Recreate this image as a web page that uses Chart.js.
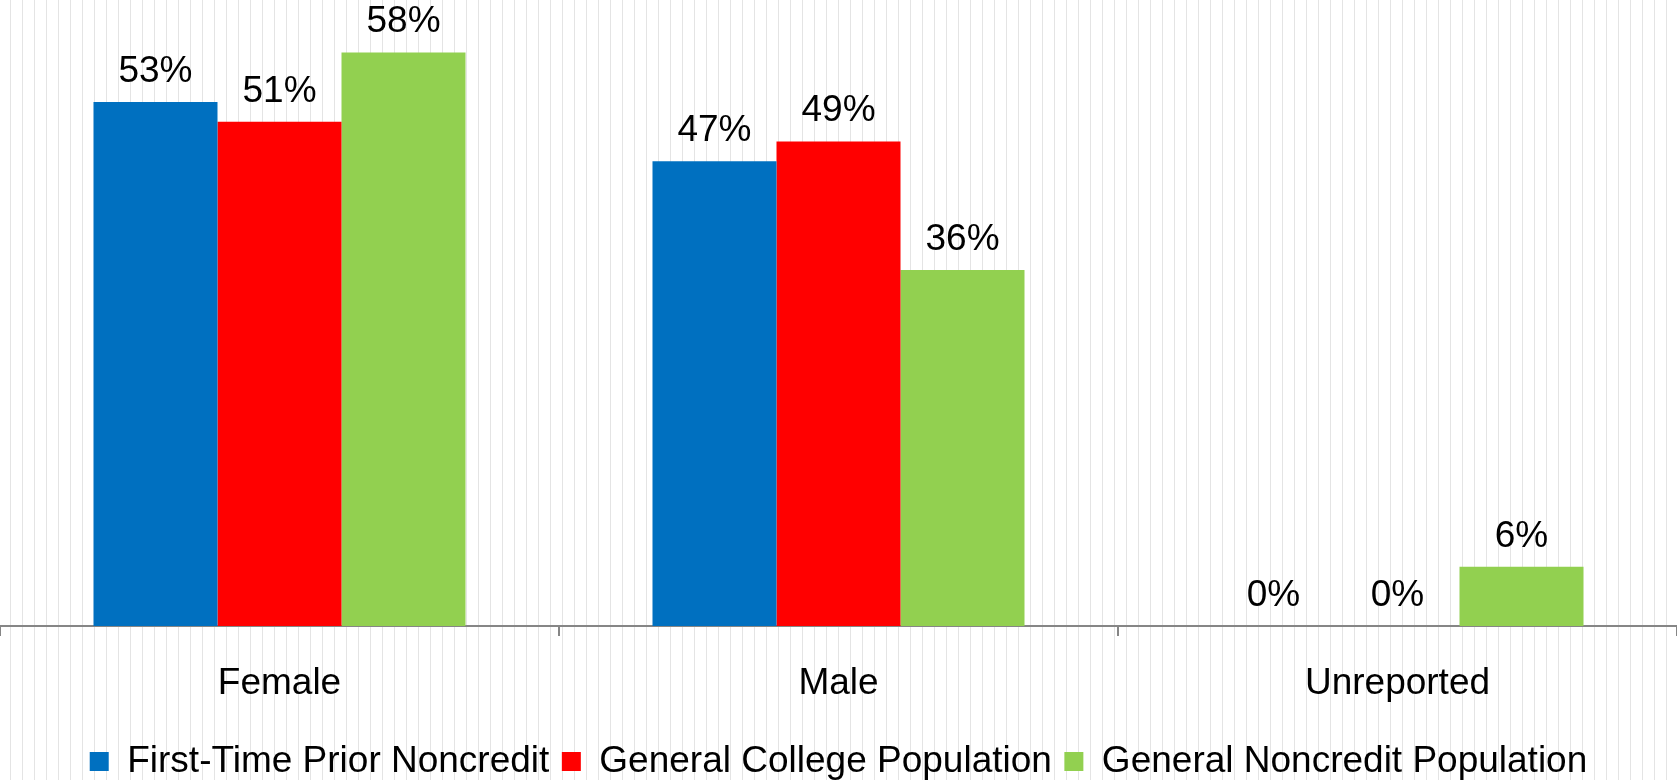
<!DOCTYPE html>
<html>
<head>
<meta charset="utf-8">
<script src="https://cdn.jsdelivr.net/npm/chart.js@4/dist/chart.umd.min.js"></script>
<style>
  html, body { margin: 0; padding: 0; overflow: hidden; }
  body {
    width: 1677px; height: 780px;
    background-color: #fff;
    background-image: linear-gradient(90deg, #e4e4e4 0, #e4e4e4 1.5px, transparent 1.5px);
    background-size: 12px 100%;
    background-position: 10px 0;
  }
  #wrap { width: 1677px; height: 790px; }
</style>
</head>
<body>
<div id="wrap"><canvas id="chart"></canvas></div>
<script>
var categories = ['Female', 'Male', 'Unreported'];
var firstTimePrior = [53, 47, 0];
var generalCollege = [51, 49, 0];
var generalNoncredit = [58, 36, 6];
var seriesNames = ['First-Time Prior Noncredit', 'General College Population', 'General Noncredit Population'];

var FONT = '"Liberation Sans", Arial, sans-serif';

// value labels drawn above each bar
var barLabels = {
	id: 'barLabels',
	afterDatasetsDraw: function(chart) {
		var ctx = chart.ctx;
		ctx.save();
		ctx.font = '37px ' + FONT;
		ctx.fillStyle = '#000';
		ctx.textAlign = 'center';
		ctx.textBaseline = 'alphabetic';
		chart.data.datasets.forEach(function(ds, i) {
			var meta = chart.getDatasetMeta(i);
			meta.data.forEach(function(bar, j) {
				ctx.fillText(ds.data[j] + '%', bar.x, bar.y - 20);
			});
		});
		ctx.restore();
	}
};

var ctx = document.getElementById('chart').getContext('2d');
var chart = new Chart(ctx, {
	type: 'bar',
	data: {
		labels: categories,
		datasets: [
			{ label: seriesNames[0], data: firstTimePrior, backgroundColor: '#0070C0' },
			{ label: seriesNames[1], data: generalCollege, backgroundColor: '#FF0000' },
			{ label: seriesNames[2], data: generalNoncredit, backgroundColor: '#92D050' }
		]
	},
	options: {
		responsive: true,
		maintainAspectRatio: false,
		animation: false,
		layout: { padding: 0 },
		datasets: {
			bar: { barPercentage: 1, categoryPercentage: 0.6655, borderWidth: 0 }
		},
		scales: {
			x: {
				grid: { display: true, drawOnChartArea: false, drawTicks: true, tickLength: 10, color: '#868686', lineWidth: 2 },
				border: { display: true, color: '#868686', width: 2 },
				ticks: { color: '#000', font: { family: FONT, size: 37 }, padding: 25 }
			},
			y: {
				display: false,
				min: 0,
				max: 63.3
			}
		},
		plugins: {
			legend: {
				position: 'bottom',
				labels: {
					color: '#000',
					font: { family: FONT, size: 37 },
					boxWidth: 19,
					boxHeight: 19,
					padding: 12.5
				}
			},
			tooltip: { enabled: false }
		}
	},
	plugins: [barLabels]
});
</script>
</body>
</html>
